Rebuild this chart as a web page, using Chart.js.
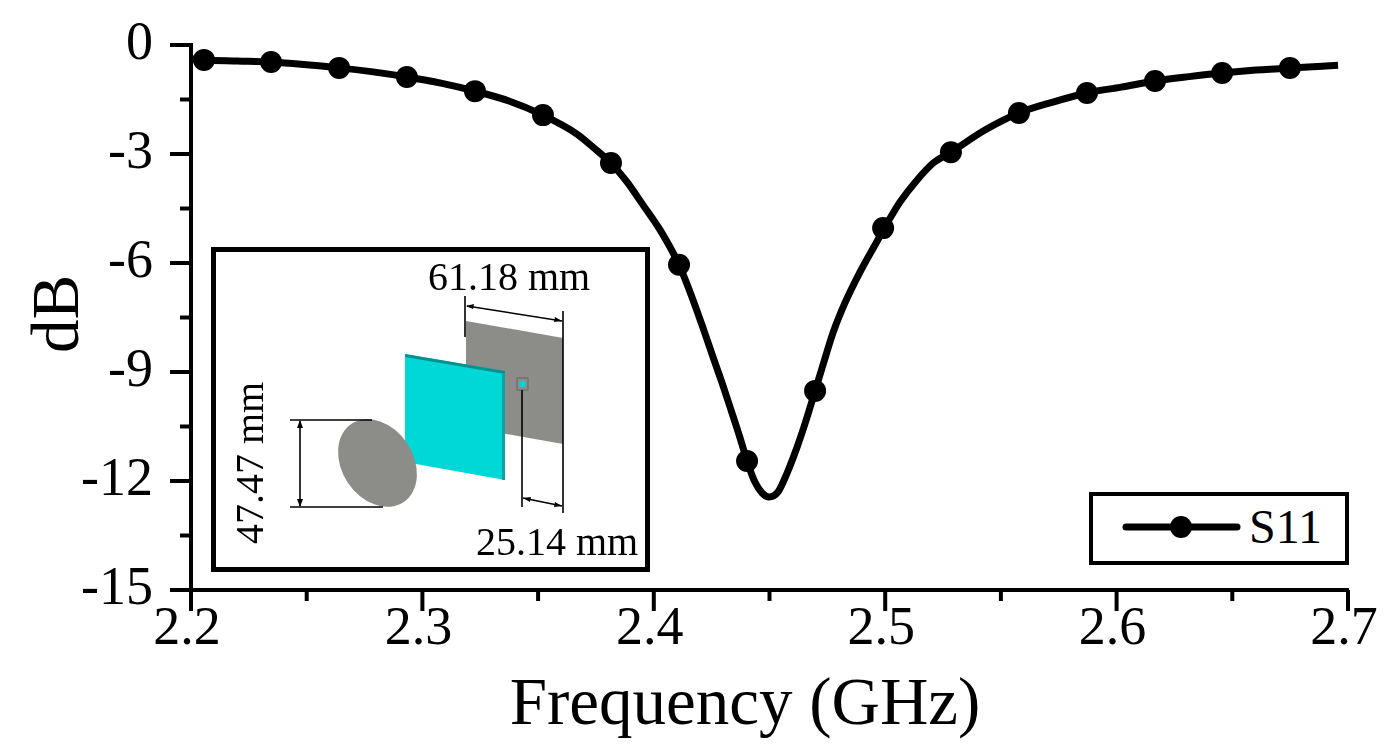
<!DOCTYPE html>
<html>
<head>
<meta charset="utf-8">
<title>S11</title>
<script src="https://cdn.jsdelivr.net/npm/chart.js@4/dist/chart.umd.min.js"></script>
<style>
  html, body { margin: 0; padding: 0; background: #fff; overflow: hidden; }
  #wrap { position: relative; width: 1393px; height: 754px; }
  #chart, #overlay { position: absolute; left: 0; top: 0; }
  #overlay text { font-family: "Liberation Serif", serif; fill: #000; }
</style>
</head>
<body>
<div id="wrap">
  <canvas id="chart" width="1393" height="754"></canvas>
  <svg id="overlay" width="1393" height="754" viewBox="0 0 1393 754">
    <!-- axis titles -->
    <text x="745" y="724" font-size="67" text-anchor="middle">Frequency (GHz)</text>
    <text transform="translate(78,314) rotate(-90)" font-size="67" text-anchor="middle">dB</text>

    <!-- antenna inset -->
    <rect x="213.5" y="249.5" width="434" height="320" fill="#fff" stroke="#000" stroke-width="5"/>
    <polygon points="466,321 563,338 563,444 466,427" fill="#8c8c88"/>
    <rect x="517" y="378" width="11" height="12" fill="#8c8c88" stroke="#666" stroke-width="1"/>
    <circle cx="522.5" cy="384" r="3.2" fill="#00d8d8"/>
    <polygon points="405,354 505,371 505,480 405,462" fill="#00d8d8"/>
    <polygon points="405,354 505,371 505,374 405,357" fill="#0a8f8f"/>
    <line x1="503.5" y1="373" x2="503.5" y2="480" stroke="#0aa5a5" stroke-width="3"/>
    <ellipse cx="377.5" cy="463" rx="47" ry="35.6" transform="rotate(56.5 377.5 463)" fill="#8c8c88"/>
    <g stroke="#000" stroke-width="1.6" fill="none">
      <line x1="465" y1="296" x2="465" y2="337"/>
      <line x1="563" y1="311" x2="563" y2="513"/>
      <line x1="467" y1="306" x2="562" y2="321"/>
      <line x1="290" y1="420" x2="372" y2="420"/>
      <line x1="290" y1="507" x2="383" y2="507"/>
      <line x1="300" y1="421" x2="300" y2="506"/>
      <line x1="522" y1="390" x2="522" y2="507"/>
      <line x1="523" y1="498" x2="562" y2="506"/>
    </g>
    <g fill="#000">
      <polygon points="466,306 474,304 473,309"/>
      <polygon points="562,321 554,322 555,317"/>
      <polygon points="300,420 297,428 303,428"/>
      <polygon points="300,507 297,499 303,499"/>
      <polygon points="523,498 531,497 530,502"/>
      <polygon points="562,506 554,507 555,502"/>
    </g>
    <text x="428" y="290" font-size="40">61.18 mm</text>
    <text x="476" y="555" font-size="40">25.14 mm</text>
    <text transform="translate(263,544) rotate(-90)" font-size="40">47.47 mm</text>

    <!-- legend -->
    <rect x="1091" y="494" width="256" height="69" fill="#fff" stroke="#000" stroke-width="4"/>
    <line x1="1126" y1="527" x2="1237" y2="527" stroke="#000" stroke-width="7" stroke-linecap="round"/>
    <circle cx="1181" cy="527" r="11" fill="#000"/>
    <text x="1249" y="543" font-size="48">S11</text>
  </svg>
</div>
<script>
const freq = [2.2, 2.2056, 2.22, 2.2346, 2.264, 2.2787, 2.2933, 2.308, 2.3227, 2.3374, 2.3521, 2.3668, 2.3737, 2.3815,
  2.3884, 2.3953, 2.4027, 2.4109, 2.4165, 2.4213, 2.4256, 2.4295, 2.4338, 2.4373, 2.4403, 2.4437, 2.4468, 2.4498,
  2.4537, 2.4576, 2.4619, 2.4653, 2.4697, 2.4731, 2.4774, 2.4826, 2.4891, 2.4965, 2.4991, 2.5029, 2.5064, 2.5137,
  2.5207, 2.5284, 2.5431, 2.5578, 2.5725, 2.5872, 2.6019, 2.6166, 2.6313, 2.6456, 2.6602, 2.6749, 2.6957];
const s11 = [-0.38, -0.41, -0.44, -0.47, -0.63, -0.74, -0.88, -1.05, -1.27, -1.54, -1.93, -2.45, -2.81, -3.25,
  -3.77, -4.4, -5.09, -6.05, -6.94, -7.79, -8.59, -9.3, -10.13, -10.82, -11.45, -12.03, -12.33, -12.44,
  -12.3, -11.78, -11.07, -10.43, -9.52, -8.81, -7.93, -7.1, -6.25, -5.4, -5.1, -4.68, -4.32, -3.72,
  -3.25, -2.95, -2.34, -1.87, -1.57, -1.32, -1.16, -0.99, -0.87, -0.77, -0.69, -0.63, -0.56];

const markerFreq = [2.2056, 2.2346, 2.264, 2.2933, 2.3227, 2.3521, 2.3815, 2.4109, 2.4403,
  2.4697, 2.4991, 2.5284, 2.5578, 2.5872, 2.6166, 2.6456, 2.6749];
const markerS11 = [-0.41, -0.47, -0.63, -0.88, -1.27, -1.93, -3.25, -6.05, -11.45,
  -9.52, -5.04, -2.95, -1.87, -1.32, -0.99, -0.77, -0.63];

const xMajor = [2.2, 2.3, 2.4, 2.5, 2.6, 2.7];
const xMinor = [2.25, 2.35, 2.45, 2.55, 2.65];
const yMajor = [0, -3, -6, -9, -12, -15];
const yMinor = [-1.5, -4.5, -7.5, -10.5, -13.5];

const FONT = 'Liberation Serif';

// chart.js only has one tick length, so the long/short marks are drawn here
const tickMarks = {
  id: 'tickMarks',
  afterDraw(chart) {
    const { ctx, chartArea, scales } = chart;
    ctx.save();
    ctx.strokeStyle = '#000';
    ctx.lineWidth = 4;
    const mark = (x1, y1, x2, y2) => {
      ctx.beginPath();
      ctx.moveTo(x1, y1);
      ctx.lineTo(x2, y2);
      ctx.stroke();
    };
    xMajor.forEach(v => { const x = scales.x.getPixelForValue(v); mark(x, chartArea.bottom, x, chartArea.bottom + 21); });
    xMinor.forEach(v => { const x = scales.x.getPixelForValue(v); mark(x, chartArea.bottom, x, chartArea.bottom + 11); });
    yMajor.forEach(v => { const y = scales.y.getPixelForValue(v); mark(chartArea.left, y, chartArea.left - 21, y); });
    yMinor.forEach(v => { const y = scales.y.getPixelForValue(v); mark(chartArea.left, y, chartArea.left - 11, y); });
    ctx.restore();
  }
};

new Chart(document.getElementById('chart').getContext('2d'), {
  type: 'scatter',
  data: {
    datasets: [
      {
        label: 'S11',
        data: freq.map((f, i) => ({ x: f, y: s11[i] })),
        showLine: true,
        borderColor: '#000',
        borderWidth: 7,
        cubicInterpolationMode: 'monotone',
        pointRadius: 0
      },
      {
        label: 'S11 markers',
        data: markerFreq.map((f, i) => ({ x: f, y: markerS11[i] })),
        showLine: false,
        backgroundColor: '#000',
        borderColor: '#000',
        pointRadius: 11,
        pointBorderWidth: 0
      }
    ]
  },
  plugins: [tickMarks],
  options: {
    responsive: false,
    animation: false,
    layout: { padding: { top: 45, right: 45 } },
    plugins: { legend: { display: false }, tooltip: { enabled: false } },
    scales: {
      x: {
        type: 'linear',
        min: 2.2,
        max: 2.7,
        afterBuildTicks: s => { s.ticks = xMajor.map(value => ({ value })); },
        afterFit: s => { s.height = 164; s.paddingLeft = 0; s.paddingRight = 0; },
        grid: { display: false, drawTicks: false },
        border: { display: true, color: '#000', width: 4 },
        ticks: {
          color: '#000',
          font: { family: FONT, size: 54 },
          padding: 7,
          labelOffset: -4,
          maxRotation: 0,
          autoSkip: false,
          callback: v => v.toFixed(1)
        }
      },
      y: {
        type: 'linear',
        min: -15,
        max: 0,
        afterBuildTicks: s => { s.ticks = yMajor.map(value => ({ value })); },
        afterFit: s => { s.width = 191; s.paddingTop = 0; s.paddingBottom = 0; },
        grid: { display: false, drawTicks: false },
        border: { display: true, color: '#000', width: 4 },
        ticks: {
          color: '#000',
          font: { family: FONT, size: 54 },
          padding: 38,
          autoSkip: false,
          callback: v => String(v)
        }
      }
    }
  }
});
</script>
</body>
</html>
